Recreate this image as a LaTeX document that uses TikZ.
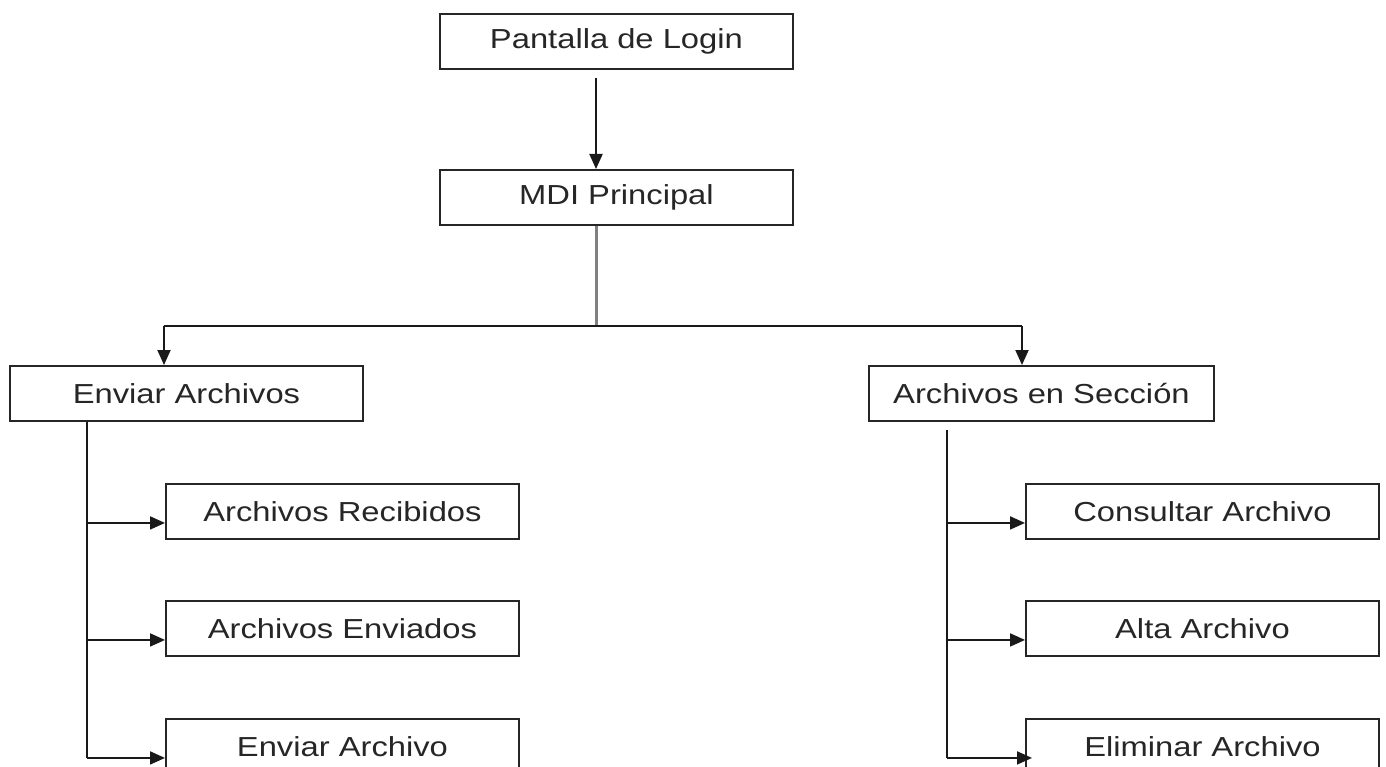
\documentclass[tikz,border=0pt]{standalone}
\usepackage{fontspec}
\setmainfont[FakeStretch=1.19]{Liberation Sans}
\usetikzlibrary{arrows.meta}
\tikzset{
  box/.style={draw=black!85, line width=1.9pt, minimum width=353pt, minimum height=55pt,
    inner sep=0pt, anchor=north west, font=\fontsize{27.5}{30}\selectfont, text=black!85},
  conn/.style={draw=black!90, line width=1.9pt},
  arr/.style={conn, -{Triangle[length=15pt,width=13pt]}},
  grayline/.style={draw=black!50, line width=3pt}
}
\begin{document}
\begin{tikzpicture}[x=1pt,y=-1pt]
\clip (0,0) rectangle (1386,767);
\fill[white] (0,0) rectangle (1386,767);
% nodes
\node[box] (P) at (439,13) {Pantalla de Login};
\node[box] (M) at (439,169) {MDI Principal};
\node[box] (E) at (9,365) {Enviar Archivos};
\node[box, minimum width=345pt] (S) at (868,365) {Archivos en Sección};
\node[box] (R1) at (165,483) {Archivos Recibidos};
\node[box] (R2) at (165,600) {Archivos Enviados};
\node[box] (R3) at (165,718) {Enviar Archivo};
\node[box] (C1) at (1025,483) {Consultar Archivo};
\node[box] (C2) at (1025,600) {Alta Archivo};
\node[box] (C3) at (1025,718) {Eliminar Archivo};
% coordinates
\coordinate (j) at (596,326);
\coordinate (jl) at (164,326);
\coordinate (jr) at (1022,326);
\coordinate (lx) at (87,0);
\coordinate (rx) at (947,0);
% connectors
\draw[arr] ([yshift=-8pt]P.south -| j) -- (M.north -| j);
\draw[grayline] (M.south -| j) -- (j);
\draw[conn] (jl) -- (jr);
\draw[arr] (jl) -- (jl |- E.north);
\draw[arr] (jr) -- (jr |- S.north);
% left branch
\draw[conn] (E.south -| lx) -- ([yshift=-11.5pt]R3.west -| lx);
\draw[arr] ([yshift=-11.5pt]R1.west -| lx) -- ([yshift=-11.5pt]R1.west);
\draw[arr] ([yshift=-11.5pt]R2.west -| lx) -- ([yshift=-11.5pt]R2.west);
\draw[arr] ([yshift=-11.5pt]R3.west -| lx) -- ([yshift=-11.5pt]R3.west);
% right branch
\draw[conn] ([yshift=-8pt]S.south -| rx) -- ([yshift=-11.5pt]C3.west -| rx);
\draw[arr] ([yshift=-11.5pt]C1.west -| rx) -- ([yshift=-11.5pt]C1.west);
\draw[arr] ([yshift=-11.5pt]C2.west -| rx) -- ([yshift=-11.5pt]C2.west);
\draw[arr] ([yshift=-11.5pt]C3.west -| rx) -- ([xshift=7pt,yshift=-11.5pt]C3.west);
\end{tikzpicture}
\end{document}
